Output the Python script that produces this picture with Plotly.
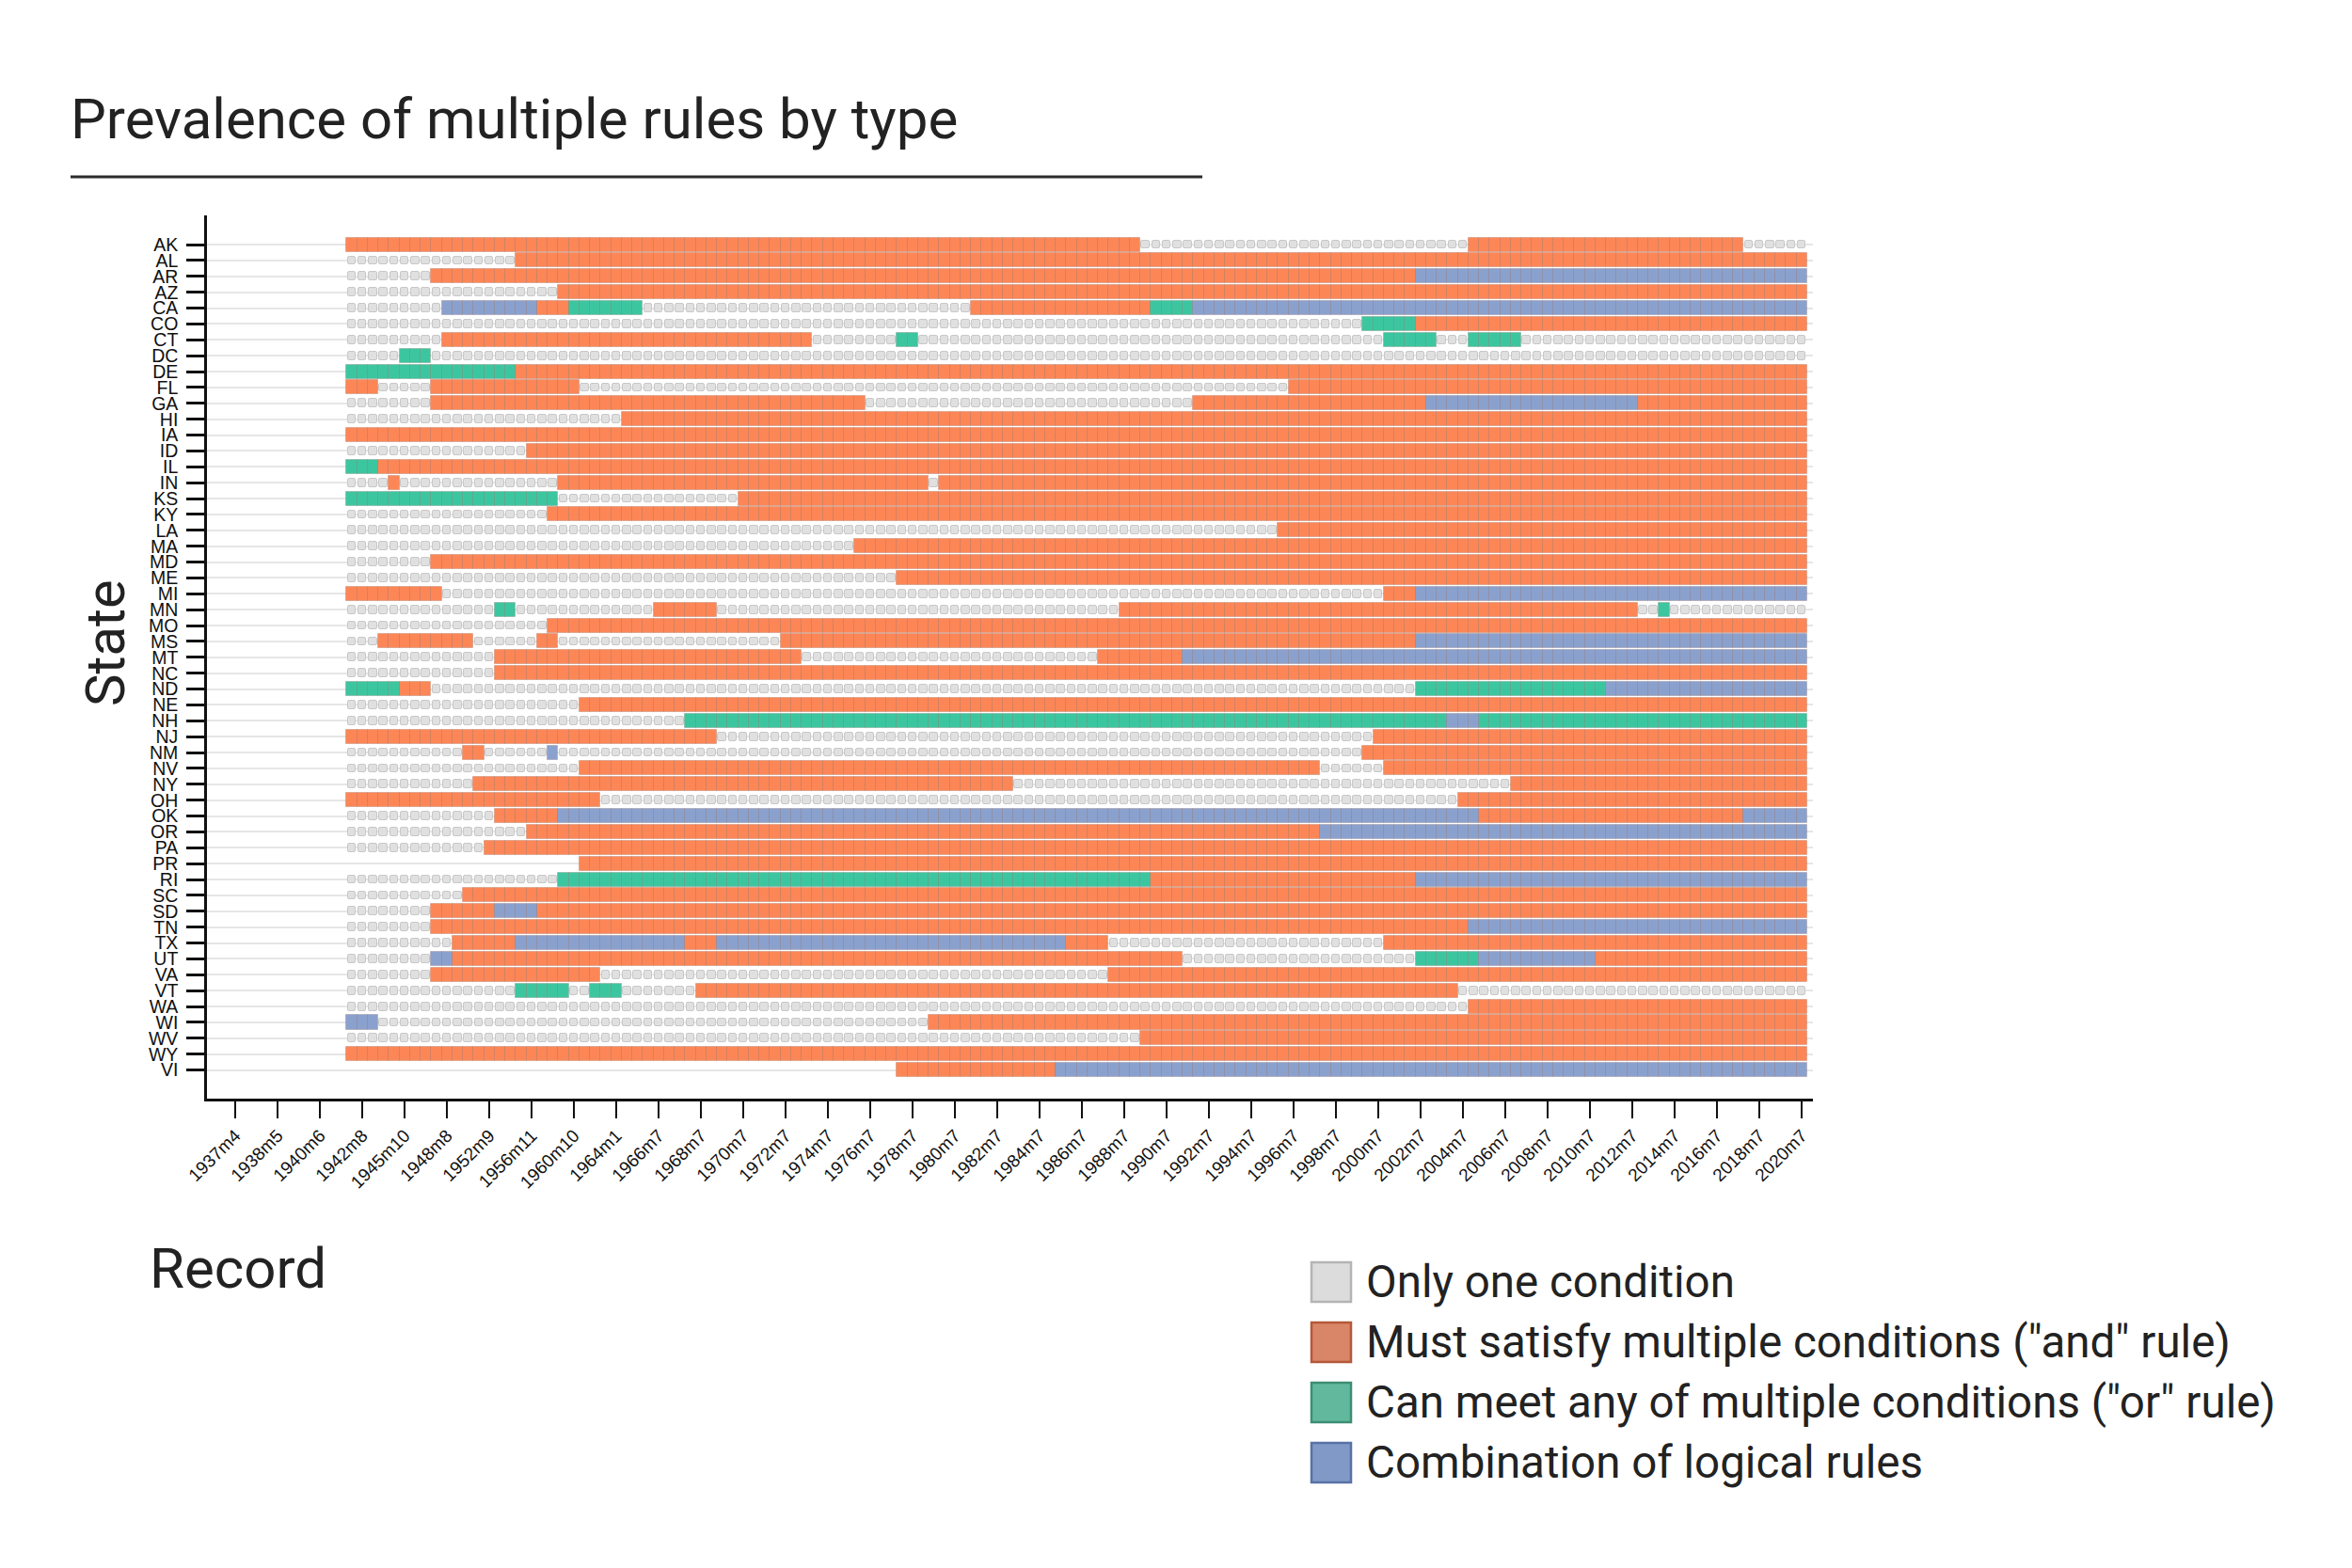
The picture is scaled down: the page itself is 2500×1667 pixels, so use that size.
import plotly.graph_objects as go

# states, top to bottom
states = ["AK", "AL", "AR", "AZ", "CA", "CO", "CT", "DC", "DE", "FL", "GA", "HI",
          "IA", "ID", "IL", "IN", "KS", "KY", "LA", "MA", "MD", "ME", "MI", "MN",
          "MO", "MS", "MT", "NC", "ND", "NE", "NH", "NJ", "NM", "NV", "NY", "OH",
          "OK", "OR", "PA", "PR", "RI", "SC", "SD", "TN", "TX", "UT", "VA", "VT",
          "WA", "WI", "WV", "WY", "VI"]

# rule type per record, as runs "<code><last record of run>", starting at first_record
# G = only one condition, O = "and", T = "or", B = combination, N = no record
first_record = 11
runs = [
    "O85 G116 O142 G148",                      # AK
    "G26 O148",                                # AL
    "G18 O111 B148",                           # AR
    "G30 O148",                                # AZ
    "G19 B28 O31 T38 G69 O86 T90 B148",        # CA
    "G106 T111 O148",                          # CO
    "G19 O54 G62 T64 G108 T113 G116 T121 G148",  # CT
    "G15 T18 G148",                            # DC
    "T26 O148",                                # DE
    "O13 G18 O32 G99 O148",                    # FL
    "G18 O59 G90 O112 B132 O148",              # GA
    "G36 O148",                                # HI
    "O148",                                    # IA
    "G27 O148",                                # ID
    "T13 O148",                                # IL
    "G14 O15 G30 O65 G66 O148",                # IN
    "T30 G47 O148",                            # KS
    "G29 O148",                                # KY
    "G98 O148",                                # LA
    "G58 O148",                                # MA
    "G18 O148",                                # MD
    "G62 O148",                                # ME
    "O19 G108 O111 B148",                      # MI
    "G24 T26 G39 O45 G83 O132 G134 T135 G148",  # MN
    "G29 O148",                                # MO
    "G13 O22 G28 O30 G51 O111 B148",           # MS
    "G24 O53 G81 O89 B148",                    # MT
    "G24 O148",                                # NC
    "T15 O18 G111 T129 B148",                  # ND
    "G32 O148",                                # NE
    "G42 T114 B117 T148",                      # NH
    "O45 G107 O148",                           # NJ
    "G21 O23 G29 B30 G106 O148",               # NM
    "G32 O102 G108 O148",                      # NV
    "G22 O73 G120 O148",                       # NY
    "O34 G115 O148",                           # OH
    "G24 O30 B117 O142 B148",                  # OK
    "G27 O102 B148",                           # OR
    "G23 O148",                                # PA
    "N32 O148",                                # PR
    "G30 T86 O111 B148",                       # RI
    "G21 O148",                                # SC
    "G18 O24 B28 O148",                        # SD
    "G18 O116 B148",                           # TN
    "G20 O26 B42 O45 B78 O82 G108 O148",       # TX
    "G18 B20 O89 G111 T117 B128 O148",         # UT
    "G18 O34 G82 O148",                        # VA
    "G26 T31 G33 T36 G43 O115 G148",           # VT
    "G116 O148",                               # WA
    "B13 G65 O148",                            # WI
    "G85 O148",                                # WV
    "O148",                                    # WY
    "N62 O77 B148",                            # VI
]

# labelled records (every 4th record from record 0)
tick_records = list(range(0, 149, 4))
tick_labels = ["1937m4", "1938m5", "1940m6", "1942m8", "1945m10", "1948m8", "1952m9",
               "1956m11", "1960m10", "1964m1", "1966m7", "1968m7", "1970m7", "1972m7",
               "1974m7", "1976m7", "1978m7", "1980m7", "1982m7", "1984m7", "1986m7",
               "1988m7", "1990m7", "1992m7", "1994m7", "1996m7", "1998m7", "2000m7",
               "2002m7", "2004m7", "2006m7", "2008m7", "2010m7", "2012m7", "2014m7",
               "2016m7", "2018m7", "2020m7"]

codes = ["G", "O", "T", "B"]
names = ["Only one condition",
         'Must satisfy multiple conditions ("and" rule)',
         'Can meet any of multiple conditions ("or" rule)',
         "Combination of logical rules"]
cell_colors = {"G": "#E0E0E0", "O": "#FD8656", "T": "#3CC6A0", "B": "#8AA1CE"}
legend_fill = ["#DCDCDC", "#D98567", "#62B89D", "#8099C6"]
legend_line = ["#B4B4B4", "#B5583A", "#3D8E73", "#5872A6"]

# expand runs into cells
cells = {c: ([], []) for c in codes}
for row, spec in enumerate(runs):
    start = first_record
    for seg in spec.split():
        code, end = seg[0], int(seg[1:])
        if code in cells:
            for rec in range(start, end + 1):
                cells[code][0].append(rec)
                cells[code][1].append(row)
        start = end + 1

fig = go.Figure()

for code in codes:
    recs, rows = cells[code]
    if code == "G":
        fig.add_trace(go.Bar(
            orientation="h", y=rows, x=[0.76] * len(recs), base=[r - 0.38 for r in recs],
            width=0.52, marker=dict(color=cell_colors[code], cornerradius=2,
                                    line=dict(color="#C8C8C8", width=1)),
            hoverinfo="skip", showlegend=False))
    else:
        fig.add_trace(go.Bar(
            orientation="h", y=rows, x=[1] * len(recs), base=[r - 0.5 for r in recs],
            width=0.89, marker=dict(color=cell_colors[code],
                                    line=dict(color="rgba(90,40,20,0.18)", width=1)),
            hoverinfo="skip", showlegend=False))

# plot area in pixels
L, R, T, B = 220, 1927, 229, 1168
W, H = 2500, 1667


def px(x):
    return (x - L) / (R - L)


def py(y):
    return (B - y) / (B - T)


fig.update_layout(
    width=W, height=H, autosize=False,
    margin=dict(l=L, r=W - R, t=T, b=H - B),
    paper_bgcolor="white", plot_bgcolor="white",
    barmode="overlay", bargap=0,
    font=dict(family="Roboto", color="#222222"),
)

fig.update_xaxes(
    range=[-2.68, 149.05], tickmode="array", tickvals=tick_records, ticktext=tick_labels,
    tickangle=-45, tickfont=dict(family="Liberation Sans", size=19, color="#111111"),
    ticks="outside", ticklen=18, tickwidth=1.5, tickcolor="#111111",
    showline=True, linecolor="#111111", linewidth=2.5,
    showgrid=False, zeroline=False,
)
fig.update_yaxes(
    range=[53.8, -1.84], tickmode="array", tickvals=list(range(len(states))), ticktext=states,
    tickfont=dict(family="Liberation Sans", size=19.5, color="#111111"),
    ticks="outside", ticklen=19, tickwidth=2.5, tickcolor="#111111", ticklabelstandoff=5,
    showline=True, linecolor="#111111", linewidth=2.5,
    showgrid=True, gridcolor="#E6E6E6", gridwidth=2, zeroline=False,
)

annotations = [
    dict(text="Prevalence of multiple rules by type", x=px(73), y=py(126),
         xanchor="left", yanchor="middle", font=dict(size=60)),
    dict(text="State", x=px(112), y=py(684), textangle=-90,
         xanchor="center", yanchor="middle", font=dict(size=58)),
    dict(text="Record", x=px(157), y=py(1348),
         xanchor="left", yanchor="middle", font=dict(size=60)),
]
shapes = [dict(type="line", xref="paper", yref="paper", x0=px(75), x1=px(1278),
               y0=py(188), y1=py(188), line=dict(color="#2B2B2B", width=3))]

# legend
for i, name in enumerate(names):
    cy = 1363 + 64 * i
    shapes.append(dict(type="rect", xref="paper", yref="paper",
                       x0=px(1394), x1=px(1436), y0=py(cy - 21), y1=py(cy + 21),
                       fillcolor=legend_fill[i], line=dict(color=legend_line[i], width=2.5)))
    annotations.append(dict(text=name, x=px(1450), y=py(cy), xanchor="left",
                            yanchor="middle", font=dict(size=47.5)))

for a in annotations:
    a.update(xref="paper", yref="paper", showarrow=False)
fig.update_layout(annotations=annotations, shapes=shapes)

fig.write_html("out.html", config={"displayModeBar": False},
               post_script="document.body.style.margin='0';")
